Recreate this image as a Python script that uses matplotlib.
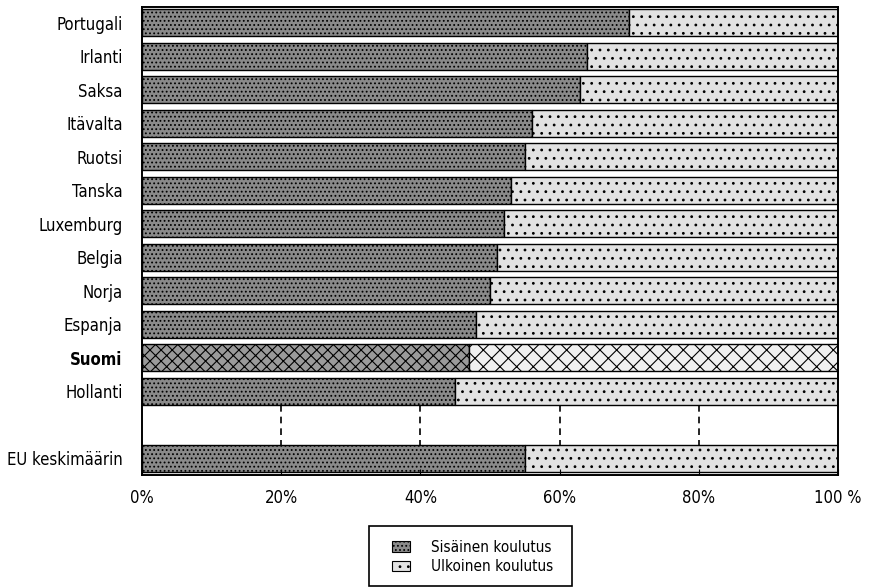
import matplotlib
matplotlib.use("Agg")
import matplotlib.pyplot as plt
from matplotlib.patches import Patch, Rectangle
from matplotlib import font_manager
from matplotlib.font_manager import FontProperties

names = {f.name for f in font_manager.fontManager.ttflist}
cond_path = font_manager.findfont(FontProperties(family="DejaVu Sans", stretch="condensed"))
if "Liberation Sans Narrow" in names:
    fam, stretch, fs = ["Liberation Sans Narrow", "DejaVu Sans"], "normal", 12.5
elif "Condensed" in cond_path:
    fam, stretch, fs = ["DejaVu Sans", "DejaVu Sans"], "condensed", 12
else:
    fam, stretch, fs = ["Liberation Sans", "DejaVu Sans"], "normal", 11
plt.rcParams["font.family"] = fam
plt.rcParams["font.stretch"] = stretch
plt.rcParams["hatch.linewidth"] = 0.8

categories = ["Portugali", "Irlanti", "Saksa", "Itävalta", "Ruotsi", "Tanska",
              "Luxemburg", "Belgia", "Norja", "Espanja", "Suomi", "Hollanti",
              "", "EU keskimäärin"]
sisainen = [70, 64, 63, 56, 55, 53, 52, 51, 50, 48, 47, 45, None, 55]
ulkoinen = [30, 36, 37, 44, 45, 47, 48, 49, 50, 52, 53, 55, None, 45]
tick_values = [0, 20, 40, 60, 80, 100]
tick_labels = ["0%", "20%", "40%", "60%", "80%", "100 %"]
legend_labels = ["Sisäinen koulutus", "Ulkoinen koulutus"]
highlight = "Suomi"

W, H = 871, 588
fig = plt.figure(figsize=(W / 100, H / 100), dpi=100)
ax = fig.add_axes([142 / W, 1 - 475 / H, (838 - 142) / W, (475 - 7) / H])

inner_fc, inner_hatch = "#8a8a8a", "...."
outer_fc, outer_hatch = "#e2e2e2", ".."
bh = 0.82
for i, (cat, a, b) in enumerate(zip(categories, sisainen, ulkoinen)):
    if a is None:
        continue
    if cat == highlight:
        ax.barh(i, a, height=bh, color="#9a9a9a", edgecolor="black", hatch="xxx", linewidth=1.0)
        ax.barh(i, b, left=a, height=bh, color="#f0f0f0", edgecolor="black", hatch="xx", linewidth=1.0)
    else:
        ax.barh(i, a, height=bh, color=inner_fc, edgecolor="black", hatch=inner_hatch, linewidth=1.0)
        ax.barh(i, b, left=a, height=bh, color=outer_fc, edgecolor="black", hatch=outer_hatch, linewidth=1.0)

gap = categories.index("")
ax.vlines(tick_values[1:-1], gap - 1 + bh / 2, gap + 1 - bh / 2, colors="black",
          linestyles=(0, (4, 3)), linewidth=1.2)

ax.set_xlim(0, 100)
ax.set_ylim(13.5, -0.47)
ax.set_yticks(range(len(categories)))
ax.set_yticklabels(categories, fontsize=fs)
for lab in ax.get_yticklabels():
    if lab.get_text() == highlight:
        lab.set_fontweight("bold")
ax.tick_params(axis="y", length=0, pad=14)
ax.set_xticks(tick_values)
ax.set_xticklabels(tick_labels, fontsize=fs)
ax.tick_params(axis="x", direction="in", length=4, pad=10)
for s in ax.spines.values():
    s.set_linewidth(1.4)

handles = [Patch(facecolor=inner_fc, edgecolor="black", hatch=inner_hatch, linewidth=0.8),
           Patch(facecolor=outer_fc, edgecolor="black", hatch=outer_hatch, linewidth=0.8)]
fig.legend(handles, legend_labels, loc="upper left",
           bbox_to_anchor=(384 / W, 1 - 532 / H), frameon=False, fontsize=fs - 1,
           handlelength=1.2, handleheight=0.7, handletextpad=1.4, labelspacing=0.3,
           borderpad=0)
fig.add_artist(Rectangle((369 / W, 1 - 586 / H), (572 - 369) / W, (586 - 526) / H,
                         transform=fig.transFigure, fill=False, edgecolor="black", linewidth=1.2))

fig.savefig("out.png", dpi=100)
